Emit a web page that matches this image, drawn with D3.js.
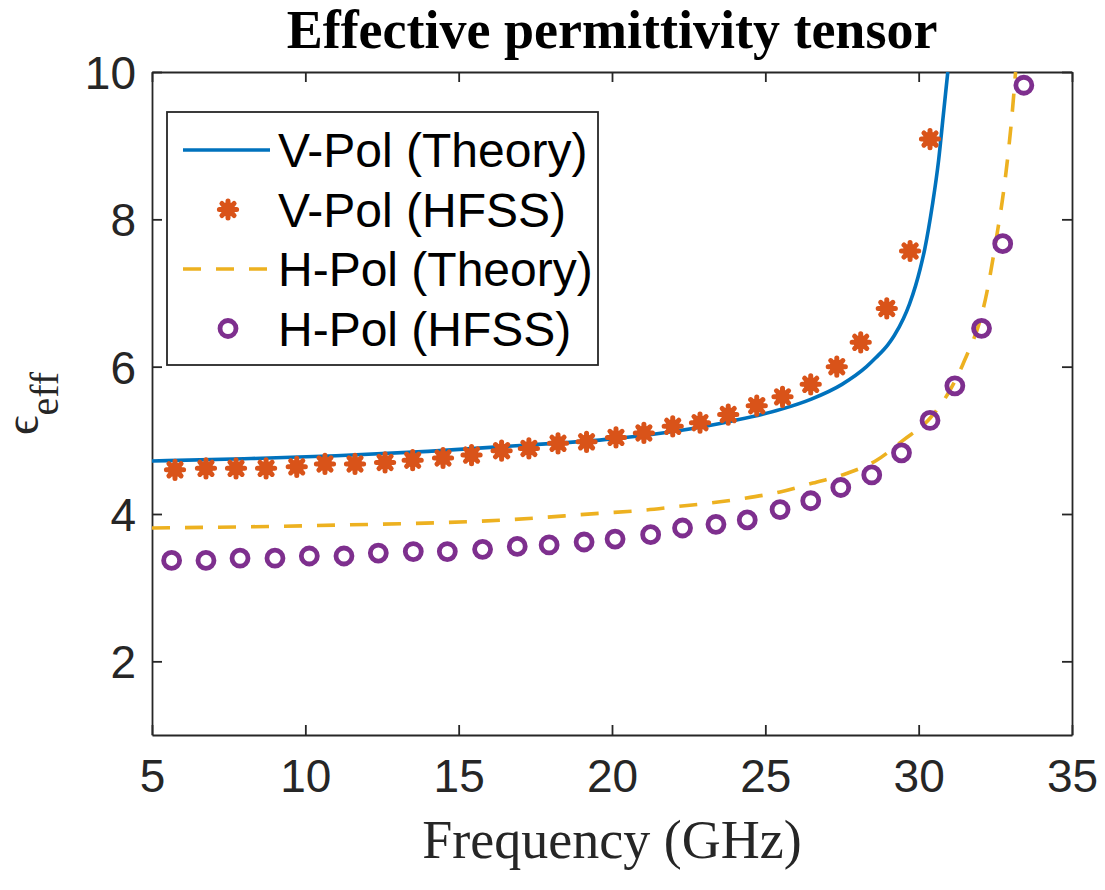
<!DOCTYPE html>
<html>
<head>
<meta charset="utf-8">
<script src="https://cdn.jsdelivr.net/npm/d3@7"></script>
<style>
  html, body { margin: 0; padding: 0; background: #fff; }
  svg { display: block; }
</style>
</head>
<body>
<svg id="chart" width="1105" height="890"></svg>
<script>
// Frequency sweep (GHz) and effective permittivity for each polarisation
const vTheoryFreq = [5.0, 8.0, 11.0, 14.0, 17.0, 20.0, 22.0, 24.0, 25.5, 26.5, 27.5, 28.3, 28.6, 29.0, 29.2, 29.5, 29.7, 29.9, 30.05, 30.2, 30.45, 30.65, 30.8, 30.95];
const vTheoryEps  = [4.72, 4.75, 4.79, 4.85, 4.93, 5.02, 5.12, 5.27, 5.42, 5.56, 5.76, 6.0, 6.12, 6.3, 6.42, 6.65, 6.85, 7.1, 7.33, 7.6, 8.2, 8.8, 9.4, 10.0];

const vHfssFreq = [5.75, 6.76, 7.74, 8.72, 9.72, 10.64, 11.62, 12.60, 13.50, 14.49, 15.42, 16.40, 17.29, 18.24, 19.17, 20.13, 21.04, 21.98, 22.87, 23.79, 24.72, 25.56, 26.48, 27.33, 28.11, 28.96, 29.72, 30.37];
const vHfssEps  = [4.60, 4.62, 4.62, 4.62, 4.64, 4.68, 4.68, 4.70, 4.73, 4.76, 4.80, 4.86, 4.89, 4.96, 4.98, 5.04, 5.10, 5.19, 5.24, 5.35, 5.47, 5.59, 5.76, 6.00, 6.33, 6.79, 7.57, 9.09];

const hTheoryFreq = [5.0, 11.13, 16.57, 19.6, 21.0, 22.1, 23.2, 24.27, 25.48, 26.55, 27.65, 28.63, 29.49, 30.37, 31.02, 31.45, 32.22, 32.54, 32.76, 32.92, 33.03, 33.16];
const hTheoryEps  = [3.81, 3.85, 3.92, 4.01, 4.05, 4.10, 4.15, 4.21, 4.30, 4.42, 4.55, 4.73, 5.00, 5.30, 5.68, 6.04, 7.00, 7.76, 8.35, 8.90, 9.35, 10.0];

const hHfssFreq = [5.64, 6.76, 7.87, 9.01, 10.13, 11.26, 12.38, 13.52, 14.63, 15.78, 16.91, 17.95, 19.09, 20.10, 21.26, 22.30, 23.39, 24.41, 25.48, 26.48, 27.46, 28.47, 29.44, 30.37, 31.18, 32.05, 32.74, 33.43];
const hHfssEps  = [3.37, 3.37, 3.40, 3.40, 3.43, 3.43, 3.47, 3.49, 3.49, 3.52, 3.56, 3.58, 3.62, 3.66, 3.72, 3.81, 3.86, 3.92, 4.06, 4.18, 4.36, 4.53, 4.83, 5.27, 5.74, 6.52, 7.67, 9.82];

const xTicks = [5, 10, 15, 20, 25, 30, 35];
const yTicks = [2, 4, 6, 8, 10];
const legendLabels = ["V-Pol (Theory)", "V-Pol (HFSS)", "H-Pol (Theory)", "H-Pol (HFSS)"];

const colors = { blue: "#0072BD", orange: "#D95319", yellow: "#EDB120", purple: "#7E2F8E" };
const axisColor = "#262626";

const svg = d3.select("#chart");
const plot = { left: 152, right: 1072, top: 72, bottom: 735 };

const x = d3.scaleLinear().domain([5, 35]).range([plot.left, plot.right]);
const y = d3.scaleLinear().domain([1, 10]).range([plot.bottom, plot.top]);

// clip region for the data
svg.append("defs").append("clipPath").attr("id", "plotClip")
  .append("rect")
  .attr("x", plot.left).attr("y", plot.top)
  .attr("width", plot.right - plot.left).attr("height", plot.bottom - plot.top);

const sans = "'Liberation Sans', Arial, Helvetica, sans-serif";
const serif = "'Liberation Serif', 'Times New Roman', Times, serif";

// axes (ticks pointing inward, mirrored on top/right)
const tickLen = 10;
const axB = svg.append("g").attr("transform", `translate(0,${plot.bottom})`)
  .call(d3.axisBottom(x).tickValues(xTicks).tickSizeInner(-tickLen).tickSizeOuter(0).tickPadding(24));
const axT = svg.append("g").attr("transform", `translate(0,${plot.top})`)
  .call(d3.axisTop(x).tickValues(xTicks).tickSizeInner(-tickLen).tickSizeOuter(0).tickFormat(""));
const axL = svg.append("g").attr("transform", `translate(${plot.left},0)`)
  .call(d3.axisLeft(y).tickValues(yTicks).tickSizeInner(-tickLen).tickSizeOuter(0).tickPadding(16));
const axR = svg.append("g").attr("transform", `translate(${plot.right},0)`)
  .call(d3.axisRight(y).tickValues(yTicks).tickSizeInner(-tickLen).tickSizeOuter(0).tickFormat(""));

[axB, axT, axL, axR].forEach(g => {
  g.select(".domain").attr("stroke", axisColor).attr("stroke-width", 1.8);
  g.selectAll(".tick line").attr("stroke", axisColor).attr("stroke-width", 1.8);
  g.selectAll(".tick text").attr("fill", axisColor)
    .style("font-family", sans).style("font-size", "46px");
});
axB.selectAll(".tick text").attr("dy", "0.71em");
axL.selectAll(".tick text").attr("dy", "0.36em");

const data = svg.append("g").attr("clip-path", "url(#plotClip)");

const line = d3.line().x(d => x(d[0])).y(d => y(d[1])).curve(d3.curveMonotoneX);

// V-pol theory
data.append("path")
  .datum(d3.zip(vTheoryFreq, vTheoryEps))
  .attr("d", line)
  .attr("fill", "none").attr("stroke", colors.blue).attr("stroke-width", 3.6);

// asterisk-style marker path
function asteriskPath(r) {
  const p = d3.path();
  for (let k = 0; k < 4; k++) {
    const a = k * Math.PI / 4;
    p.moveTo(-r * Math.cos(a), -r * Math.sin(a));
    p.lineTo(r * Math.cos(a), r * Math.sin(a));
  }
  return p.toString();
}
function drawAsterisk(sel, cx, cy) {
  const g = sel.append("g").attr("transform", `translate(${cx},${cy})`);
  g.append("circle").attr("r", 7.2).attr("fill", colors.orange);
  g.append("path").attr("d", asteriskPath(8.6))
    .attr("stroke", colors.orange).attr("stroke-width", 5).attr("stroke-linecap", "round").attr("fill", "none");
}

// V-pol HFSS
const vPts = data.append("g");
d3.zip(vHfssFreq, vHfssEps).forEach(d => drawAsterisk(vPts, x(d[0]), y(d[1])));

// H-pol theory
data.append("path")
  .datum(d3.zip(hTheoryFreq, hTheoryEps))
  .attr("d", line)
  .attr("fill", "none").attr("stroke", colors.yellow).attr("stroke-width", 3.6)
  .attr("stroke-dasharray", "18,15");

// H-pol HFSS
data.append("g").selectAll("circle")
  .data(d3.zip(hHfssFreq, hHfssEps))
  .join("circle")
  .attr("cx", d => x(d[0])).attr("cy", d => y(d[1]))
  .attr("r", 8).attr("fill", "none")
  .attr("stroke", colors.purple).attr("stroke-width", 4.8);

// legend
const leg = svg.append("g");
leg.append("rect")
  .attr("x", 167).attr("y", 112).attr("width", 431).attr("height", 253)
  .attr("fill", "#fff").attr("stroke", axisColor).attr("stroke-width", 1.8);
const rowY = [150, 209.5, 269, 328.5];
const sx0 = 183, sx1 = 270, sxc = 228, textX = 278;
leg.append("line").attr("x1", sx0).attr("x2", sx1).attr("y1", rowY[0]).attr("y2", rowY[0])
  .attr("stroke", colors.blue).attr("stroke-width", 3.6);
drawAsterisk(leg, sxc, rowY[1]);
leg.append("line").attr("x1", sx0).attr("x2", sx1 + 5).attr("y1", rowY[2]).attr("y2", rowY[2])
  .attr("stroke", colors.yellow).attr("stroke-width", 3.6).attr("stroke-dasharray", "18,15");
leg.append("circle").attr("cx", sxc).attr("cy", rowY[3]).attr("r", 8)
  .attr("fill", "none").attr("stroke", colors.purple).attr("stroke-width", 4.8);
leg.selectAll("text.lab")
  .data(legendLabels)
  .join("text")
  .attr("class", "lab")
  .attr("x", textX).attr("y", (d, i) => rowY[i])
  .attr("dy", "0.36em")
  .style("font-family", sans).style("font-size", "48px").attr("fill", "#000")
  .text(d => d);

// title
svg.append("text")
  .attr("x", (plot.left + plot.right) / 2).attr("y", 48)
  .attr("text-anchor", "middle")
  .style("font-family", serif).style("font-size", "54px").style("font-weight", "bold")
  .attr("fill", "#000")
  .text("Effective permittivity tensor");

// x-axis label
svg.append("text")
  .attr("x", (plot.left + plot.right) / 2).attr("y", 858)
  .attr("text-anchor", "middle")
  .style("font-family", serif).style("font-size", "54px")
  .attr("fill", axisColor)
  .text("Frequency (GHz)");

// y-axis label: ϵ with subscript "eff"
const yl = svg.append("text")
  .attr("transform", `translate(38,${(plot.top + plot.bottom) / 2}) rotate(-90)`)
  .attr("text-anchor", "middle")
  .style("font-family", serif).attr("fill", axisColor);
yl.append("tspan").style("font-size", "48px").text("ϵ");
yl.append("tspan").style("font-size", "40px").attr("dy", 20).text("eff");
</script>
</body>
</html>
